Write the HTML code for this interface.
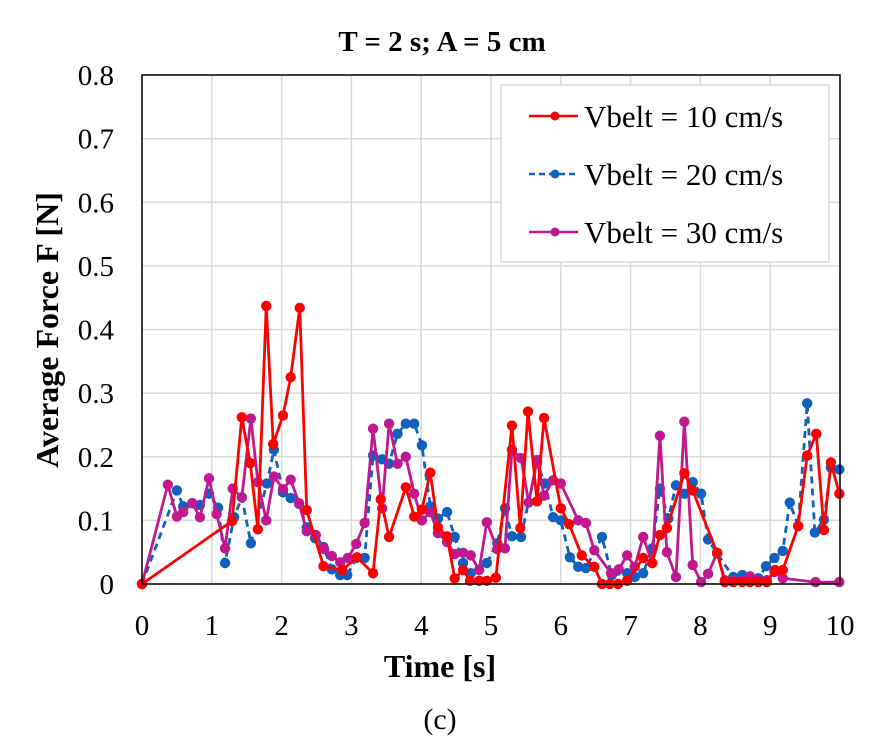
<!DOCTYPE html>
<html><head><meta charset="utf-8"><style>
body{margin:0;background:#fff}
svg{display:block;font-family:"Liberation Serif",serif}
</style></head><body>
<svg id="chart" width="880" height="753" viewBox="0 0 880 753" xmlns="http://www.w3.org/2000/svg">
<text x="442" y="51" text-anchor="middle" font-size="29" font-weight="bold">T = 2 s; A = 5 cm</text>
<g id="grid"></g>
<g id="ticks"></g>
<g id="series"></g>
<rect x="142" y="75" width="698" height="509" fill="none" stroke="#000" stroke-width="1.5"/>
<text x="440" y="677" text-anchor="middle" font-size="32" font-weight="bold">Time [s]</text>
<text transform="translate(58,330) rotate(-90)" text-anchor="middle" font-size="32" font-weight="bold">Average Force F [N]</text>
<text x="440" y="729" text-anchor="middle" font-size="30">(c)</text>
<g>
<rect x="501" y="85" width="328" height="177" fill="#fff" stroke="#d9d9d9" stroke-width="1.5"/>
<g><line x1="529" y1="116" x2="578" y2="116" stroke="#ff0000" stroke-width="2.5"/><circle cx="555" cy="116" r="4.5" fill="#ff0000"/><text x="584" y="127" font-size="31">Vbelt = 10 cm/s</text></g>
<g><line x1="529" y1="174" x2="578" y2="174" stroke="#1060c0" stroke-width="2.5" stroke-dasharray="6,4"/><circle cx="555" cy="174" r="4.5" fill="#1060c0"/><text x="584" y="185" font-size="31">Vbelt = 20 cm/s</text></g>
<g><line x1="529" y1="232" x2="578" y2="232" stroke="#c0188f" stroke-width="2.5"/><circle cx="555" cy="232" r="4.5" fill="#c0188f"/><text x="584" y="243" font-size="31">Vbelt = 30 cm/s</text></g>
</g>
</svg>
<script>
const xTicks=[0,1,2,3,4,5,6,7,8,9,10];
const yTicks=[0,0.1,0.2,0.3,0.4,0.5,0.6,0.7,0.8];
const yTickLabels=["0","0.1","0.2","0.3","0.4","0.5","0.6","0.7","0.8"];
const t10=[0,1.29,1.43,1.55,1.66,1.78,1.88,2.02,2.13,2.26,2.36,2.6,2.87,3.08,3.31,3.42,3.54,3.78,3.9,4.01,4.13,4.24,4.37,4.48,4.6,4.7,4.83,4.94,5.07,5.3,5.42,5.53,5.66,5.76,6.0,6.12,6.3,6.48,6.59,6.7,6.82,6.95,7.18,7.31,7.42,7.52,7.77,7.89,8.24,8.35,8.47,8.6,8.71,8.83,8.95,9.07,9.18,9.4,9.53,9.66,9.77,9.87,9.99];
const v10=[0,0.099,0.262,0.19,0.086,0.437,0.22,0.265,0.325,0.434,0.116,0.028,0.022,0.042,0.017,0.133,0.074,0.152,0.106,0.117,0.175,0.089,0.075,0.009,0.022,0.005,0.005,0.005,0.01,0.249,0.088,0.271,0.13,0.261,0.119,0.094,0.045,0.027,0,0,0,0.005,0.041,0.033,0.077,0.088,0.174,0.147,0.049,0.003,0.003,0.003,0.003,0.003,0.003,0.022,0.022,0.091,0.202,0.236,0.085,0.191,0.142];
const t20=[0,0.5,0.59,0.72,0.83,0.96,1.09,1.19,1.32,1.43,1.56,1.79,1.89,2.02,2.13,2.25,2.36,2.48,2.6,2.72,2.84,2.94,3.07,3.19,3.31,3.44,3.54,3.66,3.78,3.9,4.01,4.13,4.24,4.37,4.48,4.6,4.71,4.94,5.09,5.2,5.3,5.43,5.66,5.77,5.89,6.0,6.13,6.25,6.36,6.59,6.73,6.95,7.06,7.18,7.31,7.42,7.54,7.65,7.77,7.89,8.01,8.11,8.24,8.47,8.6,8.71,8.83,8.94,9.06,9.18,9.28,9.4,9.53,9.64,9.77,9.87,9.99];
const v20=[0,0.147,0.122,0.127,0.124,0.142,0.12,0.033,0.105,0.136,0.064,0.158,0.211,0.144,0.135,0.126,0.089,0.072,0.058,0.023,0.014,0.014,0.041,0.041,0.202,0.196,0.189,0.236,0.252,0.252,0.218,0.122,0.103,0.113,0.074,0.033,0.017,0.033,0.064,0.119,0.075,0.074,0.191,0.158,0.105,0.1,0.042,0.027,0.025,0.074,0.014,0.017,0.011,0.017,0.056,0.15,0.103,0.155,0.142,0.16,0.142,0.07,0.048,0.011,0.014,0.011,0.009,0.028,0.041,0.052,0.128,0.091,0.284,0.081,0.101,0.183,0.18];
const t30=[0,0.37,0.5,0.59,0.72,0.83,0.96,1.07,1.19,1.3,1.43,1.56,1.66,1.78,1.89,2.02,2.13,2.25,2.36,2.49,2.61,2.72,2.84,2.95,3.07,3.19,3.31,3.44,3.54,3.66,3.78,3.9,4.01,4.13,4.24,4.37,4.48,4.6,4.71,4.83,4.94,5.09,5.2,5.3,5.43,5.54,5.66,5.76,5.89,6.0,6.25,6.36,6.48,6.72,6.83,6.95,7.06,7.18,7.31,7.42,7.52,7.65,7.77,7.89,8.01,8.11,8.24,8.35,8.47,8.6,8.71,8.83,8.95,9.06,9.18,9.65,9.99];
const v30=[0,0.156,0.106,0.113,0.127,0.105,0.166,0.11,0.056,0.15,0.136,0.26,0.16,0.1,0.169,0.149,0.164,0.127,0.083,0.077,0.055,0.044,0.034,0.041,0.063,0.096,0.244,0.119,0.252,0.189,0.2,0.142,0.1,0.113,0.08,0.066,0.047,0.049,0.045,0.022,0.097,0.055,0.056,0.211,0.198,0.128,0.195,0.139,0.163,0.158,0.1,0.096,0.053,0.017,0.023,0.045,0.027,0.074,0.033,0.233,0.05,0.011,0.255,0.03,0.003,0.016,0.049,0.006,0.005,0.005,0.012,0.005,0.006,0.019,0.009,0.003,0.003];
const NS="http://www.w3.org/2000/svg";
const X0=142,X1=840,Y0=584,Y1=75;
function xs(t){return X0+(t/10)*(X1-X0);}
function ys(v){return Y0-(v/0.8)*(Y0-Y1);}
function mk(tag,attrs,parent){const e=document.createElementNS(NS,tag);for(const k in attrs)e.setAttribute(k,attrs[k]);parent.appendChild(e);return e;}
const grid=document.getElementById('grid'),ticks=document.getElementById('ticks'),ser=document.getElementById('series');
xTicks.forEach(t=>{
  const l=mk('line',{x1:xs(t),x2:xs(t),y1:Y1,y2:Y0,stroke:'#d9d9d9','stroke-width':1.5},grid);
  
  
  const tx=mk('text',{x:xs(t),y:635,'text-anchor':'middle','font-size':29},ticks);
  tx.textContent=String(t);
  
  
});
yTicks.forEach((v,i)=>{
  const l=mk('line',{x1:X0,x2:X1,y1:ys(v),y2:ys(v),stroke:'#d9d9d9','stroke-width':1.5},grid);
  
  
  const tx=mk('text',{x:114,y:ys(v)+10,'text-anchor':'end','font-size':29},ticks);
  tx.textContent=yTickLabels[i];
  
  
});
function draw(ts,vs,color,dash,name){
  const g=mk('g',{},ser);
  
  
  const pts=ts.map((t,i)=>xs(t)+','+ys(vs[i])).join(' ');
  const pl=mk('polyline',{points:pts,fill:'none',stroke:color,'stroke-width':2.8,'stroke-linejoin':'round'},g);
  if(dash)pl.setAttribute('stroke-dasharray',dash);
  
  
  ts.forEach((t,i)=>{
    const c=mk('circle',{cx:xs(t),cy:ys(vs[i]),r:5.2,fill:color},g);
    
    
  });
}
draw(t20,v20,'#1060c0','7,5','series-20');
draw(t30,v30,'#c0188f',null,'series-30');
draw(t10,v10,'#ff0000',null,'series-10');
</script>
</body></html>
